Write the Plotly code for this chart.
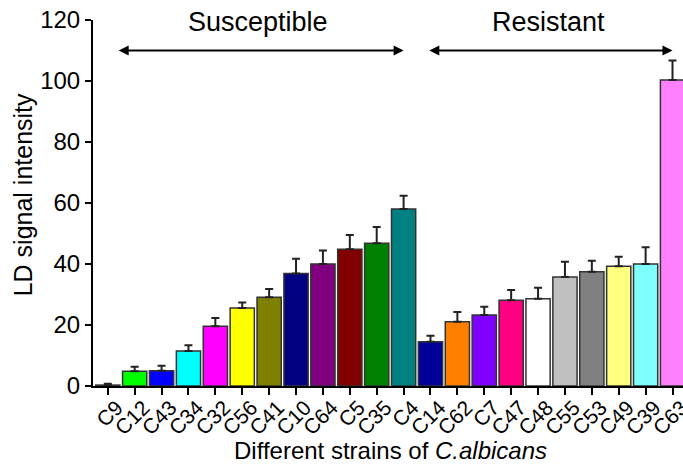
import plotly.graph_objects as go

strains = ["C9", "C12", "C43", "C34", "C32", "C56", "C41", "C10", "C64", "C5", "C35", "C4",
           "C14", "C62", "C7", "C47", "C48", "C55", "C53", "C49", "C39", "C63"]
values = [0.3, 4.8, 5.0, 11.5, 19.6, 25.6, 29.1, 36.9, 40.0, 44.8, 46.8, 58.0,
          14.5, 21.1, 23.3, 28.1, 28.6, 35.7, 37.5, 39.3, 40.0, 100.3]
errors = [0.4, 1.5, 1.6, 1.9, 2.7, 1.8, 2.7, 4.8, 4.4, 4.7, 5.3, 4.4,
          2.0, 3.2, 2.7, 3.4, 3.6, 5.0, 3.6, 3.1, 5.5, 6.4]
colors = ["#222222", "#00FF00", "#0000FF", "#00FFFF", "#FF00FF", "#FFFF00", "#808000",
          "#000080", "#800080", "#800000", "#008000", "#008080",
          "#000099", "#FF8000", "#8000FF", "#FF0080", "#FFFFFF", "#C0C0C0", "#808080",
          "#FFFF80", "#80FFFF", "#FF80FF"]
group_labels = ["Susceptible", "Resistant"]
group_spans = [(0.35, 11.0), (11.9, 21.0)]
group_text_x = [5.6, 16.4]
arrow_y = 110
y_ticks = [0, 20, 40, 60, 80, 100, 120]

FONT = "Liberation Sans, Arial, sans-serif"

fig = go.Figure()
fig.add_trace(go.Bar(
    x=list(range(len(strains))),
    y=values,
    width=0.9,
    marker=dict(color=colors, line=dict(color="#333333", width=1.5)),
    error_y=dict(type="data", symmetric=False, array=errors,
                 arrayminus=[0] * len(errors), color="#222222",
                 thickness=2, width=4),
    showlegend=False,
))

annotations = []
for (x0, x1), lab, tx in zip(group_spans, group_labels, group_text_x):
    annotations.append(dict(
        x=x1, y=arrow_y, ax=x0, ay=arrow_y, xref="x", yref="y", axref="x", ayref="y",
        text="", showarrow=True, arrowhead=2, arrowside="end+start",
        arrowsize=1, arrowwidth=2, arrowcolor="#000000"))
    annotations.append(dict(
        x=tx, y=119.3, xref="x", yref="y", text=lab, showarrow=False,
        font=dict(family=FONT, size=27, color="#000000"),
        xanchor="center", yanchor="middle"))

annotations.append(dict(
    x=-0.118, y=0.522, xref="paper", yref="paper", text="LD signal intensity",
    textangle=-90, showarrow=False, font=dict(family=FONT, size=25, color="#000000"),
    xanchor="center", yanchor="middle"))
annotations.append(dict(
    x=0.504, y=-0.175, xref="paper", yref="paper",
    text="Different strains of <i>C.albicans</i>", showarrow=False,
    font=dict(family=FONT, size=24, color="#000000"),
    xanchor="center", yanchor="middle"))

fig.update_layout(
    width=683, height=464,
    margin=dict(l=93, r=0, t=20, b=78, autoexpand=False),
    plot_bgcolor="white", paper_bgcolor="white",
    font=dict(family=FONT, color="#000000"),
    annotations=annotations,
    xaxis=dict(
        range=[-0.55, 21.39], tickmode="array", automargin=False,
        tickvals=list(range(len(strains))), ticktext=strains,
        tickangle=-45, tickfont=dict(family=FONT, size=21),
        ticklabelshift=9, ticklabelstandoff=-8, ticklabeloverflow="allow",
        ticks="outside", ticklen=7, tickwidth=2, tickcolor="#000000",
        showline=True, linewidth=2, linecolor="#000000",
        showgrid=False, zeroline=False,
    ),
    yaxis=dict(
        range=[0, 120], tickmode="array", tickvals=y_ticks, automargin=False,
        tickfont=dict(family=FONT, size=24),
        ticks="outside", ticklen=6, tickwidth=2, tickcolor="#000000",
        showline=True, linewidth=2, linecolor="#000000",
        showgrid=False, zeroline=False,
    ),
)

fig.write_html("out.html")
